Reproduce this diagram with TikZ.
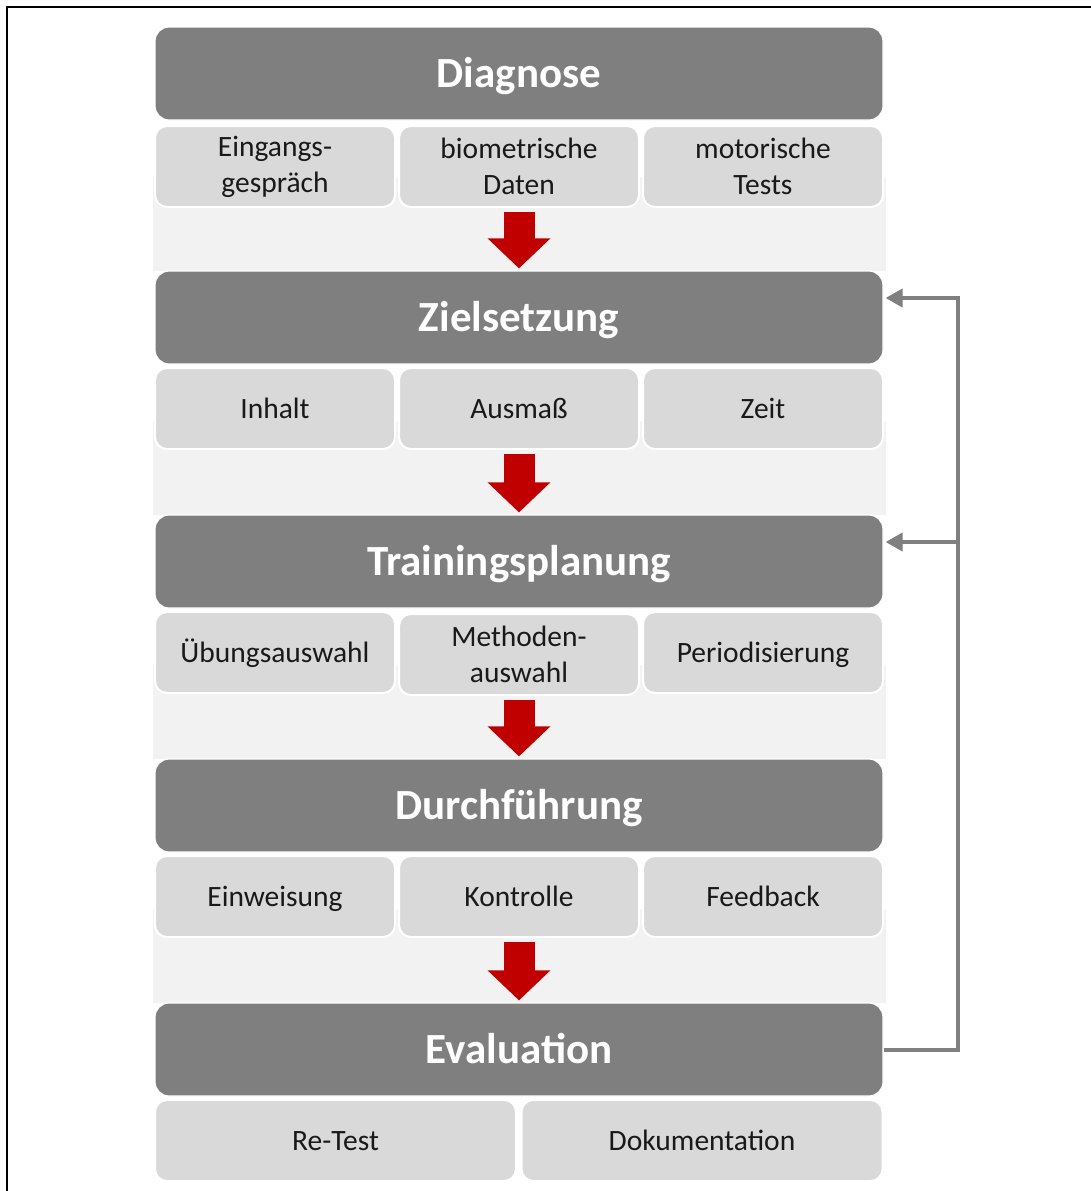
\documentclass[tikz,border=0pt]{standalone}
\usepackage{fontspec}
\setmainfont{Carlito}
\usetikzlibrary{arrows.meta,calc}
\definecolor{headgray}{HTML}{7F7F7F}
\definecolor{subgray}{HTML}{D9D9D9}
\definecolor{bandgray}{HTML}{F2F2F2}
\definecolor{darkred}{HTML}{C00000}
\definecolor{fbgray}{HTML}{808080}
\begin{document}
\begin{tikzpicture}[x=0.5pt,y=-0.5pt,
  headbox/.style={draw=white,line width=0.6pt,fill=headgray,rounded corners=7pt,
    minimum width=364pt,minimum height=46.5pt,inner sep=0pt,text=white,
    text height=16pt,text depth=2.2pt,
    font=\fontsize{21.5}{26}\selectfont\bfseries},
  subbox/.style={draw=white,line width=1pt,fill=subgray,rounded corners=6pt,
    minimum width=120pt,minimum height=40.5pt,inner sep=0pt,align=center,
    text=black!90,font=\fontsize{14.75}{18}\selectfont},
  onebox/.style={subbox,text height=11pt,text depth=1.5pt},
  twobox/.style={subbox,yshift=-1pt},
  widebox/.style={onebox,minimum width=180.5pt},
  band/.style={fill=bandgray,draw=none},
  redarrow/.style={draw=darkred,line width=15.5pt,
    -{Triangle[width=30.5pt,length=15pt]},shorten <=2pt,shorten >=1pt},
  fbline/.style={draw=fbgray,line width=2pt,line join=miter},
  fbarrow/.style={fbline,-{Triangle[width=9pt,length=8.5pt]},shorten >=1pt}
]
\useasboundingbox (0,0) rectangle (1091,1191);
\fill[white] (0,0) rectangle (1091,1191);
% frame (top and left edges only)
\draw[black,line width=1.2pt] (7,1191) -- (7,7) -- (1091,7);

% light bands between stages
\foreach \t in {27,271,515,759}{
  \fill[band] (153,\t+150) rectangle (886,\t+244);
}

% headers
\node[headbox] (h1) at (519,73.5) {Diagnose};
\node[headbox] (h2) at (519,317.5) {Zielsetzung};
\node[headbox] (h3) at (519,561.5) {Trainingsplanung};
\node[headbox] (h4) at (519,805.5) {Durchführung};
\node[headbox] (h5) at (519,1049.5) {Evaluation};

% sub rows
\node[twobox] (s1a) at (275,164.5) {Eingangs-\\gespräch};
\node[twobox] (s1b) at (519,164.5) {biometrische\\Daten};
\node[twobox] (s1c) at (763,164.5) {motorische\\Tests};

\node[onebox] (s2a) at (275,408.5) {Inhalt};
\node[onebox] (s2b) at (519,408.5) {Ausmaß};
\node[onebox] (s2c) at (763,408.5) {Zeit};

\node[onebox] (s3a) at (275,652.5) {Übungsauswahl};
\node[twobox] (s3b) at (519,652.5) {Methoden-\\auswahl};
\node[onebox] (s3c) at (763,652.5) {Periodisierung};

\node[onebox] (s4a) at (275,896.5) {Einweisung};
\node[onebox] (s4b) at (519,896.5) {Kontrolle};
\node[onebox] (s4c) at (763,896.5) {Feedback};

\node[widebox] (s5a) at (335.5,1140.5) {Re-Test};
\node[widebox] (s5b) at (702,1140.5) {Dokumentation};

% red flow arrows
\draw[redarrow] (s1b.south) -- (h2.north);
\draw[redarrow] (s2b.south) -- (h3.north);
\draw[redarrow] (s3b.south) -- (h4.north);
\draw[redarrow] (s4b.south) -- (h5.north);

% feedback loop
\coordinate (t2) at ([yshift=9.75pt]h2.east);
\coordinate (t3) at ([yshift=9.75pt]h3.east);
\coordinate (c) at ([xshift=37pt]h5.east);
\draw[fbarrow] (h5.east) -- (c) -- (c |- t2) -- (t2);
\draw[fbarrow] (c |- t3) -- (t3);
\end{tikzpicture}
\end{document}
